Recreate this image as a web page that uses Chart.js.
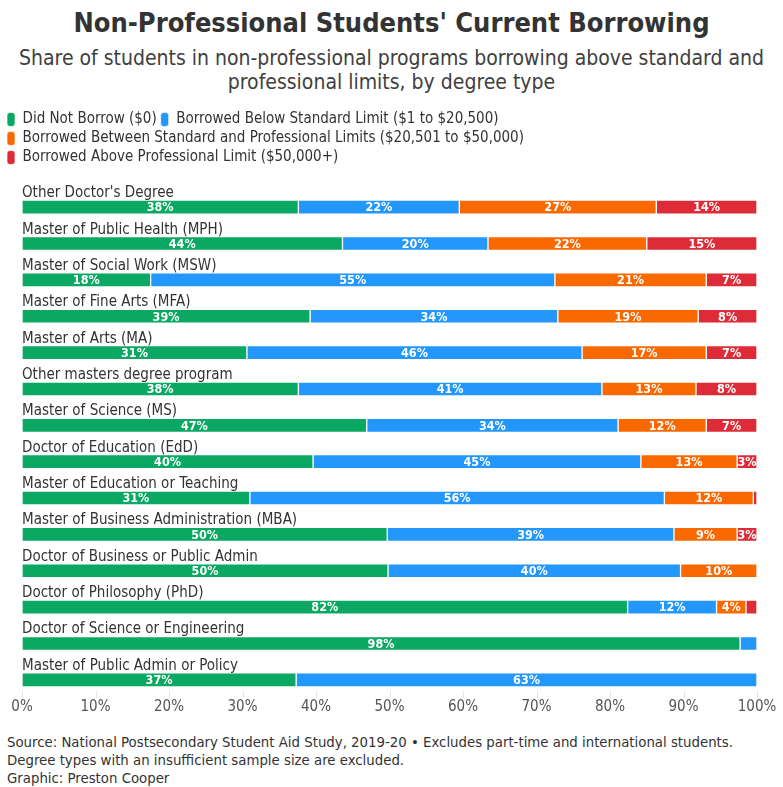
<!DOCTYPE html>
<html lang="en">
<head>
<meta charset="UTF-8">
<title>Non-Professional Students' Current Borrowing</title>
<script src="https://cdn.jsdelivr.net/npm/chart.js"></script>
<style>
  body { margin: 0; background: #fff; font-family: 'Liberation Sans Narrow', 'DejaVu Sans Condensed', sans-serif; color: #333; }
  #wrap { width: 783px; height: 787px; position: relative; overflow: hidden; }
  h1 { margin: 0; padding-top: 6px; text-align: center; font-size: 27px; line-height: 34px; font-weight: bold; color: #333; }
  .sub { text-align: center; font-size: 21px; line-height: 24px; margin-top: 6px; color: #404040; }
  #box { position: absolute; left: 0; top: 100px; width: 783px; height: 616px; }
  .src { position: absolute; left: 7px; top: 733px; font-size: 14.8px; line-height: 18px; color: #333; }
</style>
</head>
<body>
<div id="wrap">
  <h1>Non-Professional Students' Current Borrowing</h1>
  <div class="sub">Share of students in non-professional programs borrowing above standard and<br>professional limits, by degree type</div>
  <div id="box"><canvas id="chart"></canvas></div>
  <div class="src">Source: National Postsecondary Student Aid Study, 2019-20 • Excludes part-time and international students.<br>Degree types with an insufficient sample size are excluded.<br>Graphic: Preston Cooper</div>
</div>

<script>
  const FONT = "'Liberation Sans Narrow', 'DejaVu Sans Condensed', sans-serif";

  // degree types, top to bottom
  const degrees = [
    "Other Doctor's Degree",
    "Master of Public Health (MPH)",
    "Master of Social Work (MSW)",
    "Master of Fine Arts (MFA)",
    "Master of Arts (MA)",
    "Other masters degree program",
    "Master of Science (MS)",
    "Doctor of Education (EdD)",
    "Master of Education or Teaching",
    "Master of Business Administration (MBA)",
    "Doctor of Business or Public Admin",
    "Doctor of Philosophy (PhD)",
    "Doctor of Science or Engineering",
    "Master of Public Admin or Policy"
  ];

  // shares in percent
  const didNotBorrow      = [37.6, 43.6, 17.5, 39.2, 30.6, 37.6, 46.9, 39.6, 31.0, 49.7, 49.8, 82.4, 97.7, 37.3];
  const belowStandard     = [21.9, 19.8, 55.0, 33.7, 45.6, 41.3, 34.2, 44.6, 56.4, 39.0, 39.8, 12.1,  2.3, 62.7];
  const betweenLimits     = [26.8, 21.6, 20.6, 19.1, 16.9, 12.8, 12.0, 13.1, 12.1,  8.6, 10.4,  4.0,  0,    0  ];
  const aboveProfessional = [13.7, 15.0,  6.9,  8.0,  6.9,  8.3,  6.9,  2.7,  0.5,  2.7,  0,    1.5,  0,    0  ];

  const seriesNames = [
    'Did Not Borrow ($0)',
    'Borrowed Below Standard Limit ($1 to $20,500)',
    'Borrowed Between Standard and Professional Limits ($20,501 to $50,000)',
    'Borrowed Above Professional Limit ($50,000+)'
  ];
  const seriesColors = ['#0aa862', '#2397fb', '#fa6900', '#dd2c37'];
  const xTicks = [0, 10, 20, 30, 40, 50, 60, 70, 80, 90, 100];

  // category name above each bar
  const rowLabels = {
    id: 'rowLabels',
    afterDatasetsDraw(chart) {
      const { ctx, chartArea, scales } = chart;
      ctx.save();
      ctx.font = '15px ' + FONT;
      ctx.fillStyle = '#333';
      ctx.textAlign = 'left';
      ctx.textBaseline = 'alphabetic';
      degrees.forEach((d, i) => {
        ctx.fillText(d, chartArea.left, scales.y.getPixelForValue(i) - 10);
      });
      ctx.restore();
    }
  };

  // percentage inside each segment
  const segLabels = {
    id: 'segLabels',
    afterDatasetsDraw(chart) {
      const { ctx } = chart;
      ctx.save();
      ctx.font = 'bold 12.5px ' + FONT;
      ctx.fillStyle = '#fff';
      ctx.textAlign = 'center';
      ctx.textBaseline = 'middle';
      chart.data.datasets.forEach((ds, di) => {
        chart.getDatasetMeta(di).data.forEach((bar, i) => {
          const v = ds.data[i];
          if (v < 2.5) return;
          ctx.fillText(Math.round(v) + '%', (bar.x + bar.base) / 2, bar.y + 1);
        });
      });
      ctx.restore();
    }
  };

  // short tick marks at the foot of the plot
  const footTicks = {
    id: 'footTicks',
    beforeDatasetsDraw(chart) {
      const { ctx, chartArea, scales } = chart;
      ctx.save();
      ctx.strokeStyle = '#e6e6e6';
      ctx.lineWidth = 1;
      xTicks.forEach(t => {
        const px = Math.round(scales.x.getPixelForValue(t)) + 0.5;
        ctx.beginPath();
        ctx.moveTo(px, chartArea.bottom - 7);
        ctx.lineTo(px, chartArea.bottom);
        ctx.stroke();
      });
      ctx.restore();
    }
  };

  // fixed legend height so the plot starts where it does in the original
  const legendSpace = {
    id: 'legendSpace',
    beforeInit(chart) {
      const fit = chart.legend.fit;
      chart.legend.fit = function () {
        fit.call(this);
        this.height = 81;
      };
    }
  };

  const dataSets = [didNotBorrow, belowStandard, betweenLimits, aboveProfessional];

  new Chart(document.getElementById('chart'), {
    type: 'bar',
    data: {
      labels: degrees,
      datasets: dataSets.map((d, i) => ({
        label: seriesNames[i],
        data: d,
        backgroundColor: seriesColors[i],
        borderColor: 'rgba(255,255,255,0.65)',
        borderWidth: 1,
        borderSkipped: false,
        barThickness: 14
      }))
    },
    options: {
      indexAxis: 'y',
      responsive: true,
      maintainAspectRatio: false,
      animation: false,
      layout: { padding: { left: 3, right: 26, top: 8, bottom: 0 } },
      scales: {
        x: {
          stacked: true,
          min: 0,
          max: 100,
          afterBuildTicks: s => { s.ticks = xTicks.map(v => ({ value: v })); },
          ticks: {
            callback: v => v + '%',
            color: '#555',
            font: { family: FONT, size: 15 },
            padding: 0,
            maxRotation: 0
          },
          grid: { display: false, drawTicks: false },
          border: { display: false }
        },
        y: {
          stacked: true,
          ticks: { display: false },
          grid: { display: false, drawTicks: false },
          border: { display: false },
          afterFit: s => { s.width = 19; }
        }
      },
      plugins: {
        legend: {
          position: 'top',
          align: 'start',
          labels: {
            boxWidth: 8,
            boxHeight: 14,
            useBorderRadius: true,
            borderRadius: 3,
            padding: 4,
            color: '#333',
            font: { family: FONT, size: 15 }
          }
        },
        tooltip: { enabled: false }
      }
    },
    plugins: [legendSpace, footTicks, rowLabels, segLabels]
  });
</script>
</body>
</html>
